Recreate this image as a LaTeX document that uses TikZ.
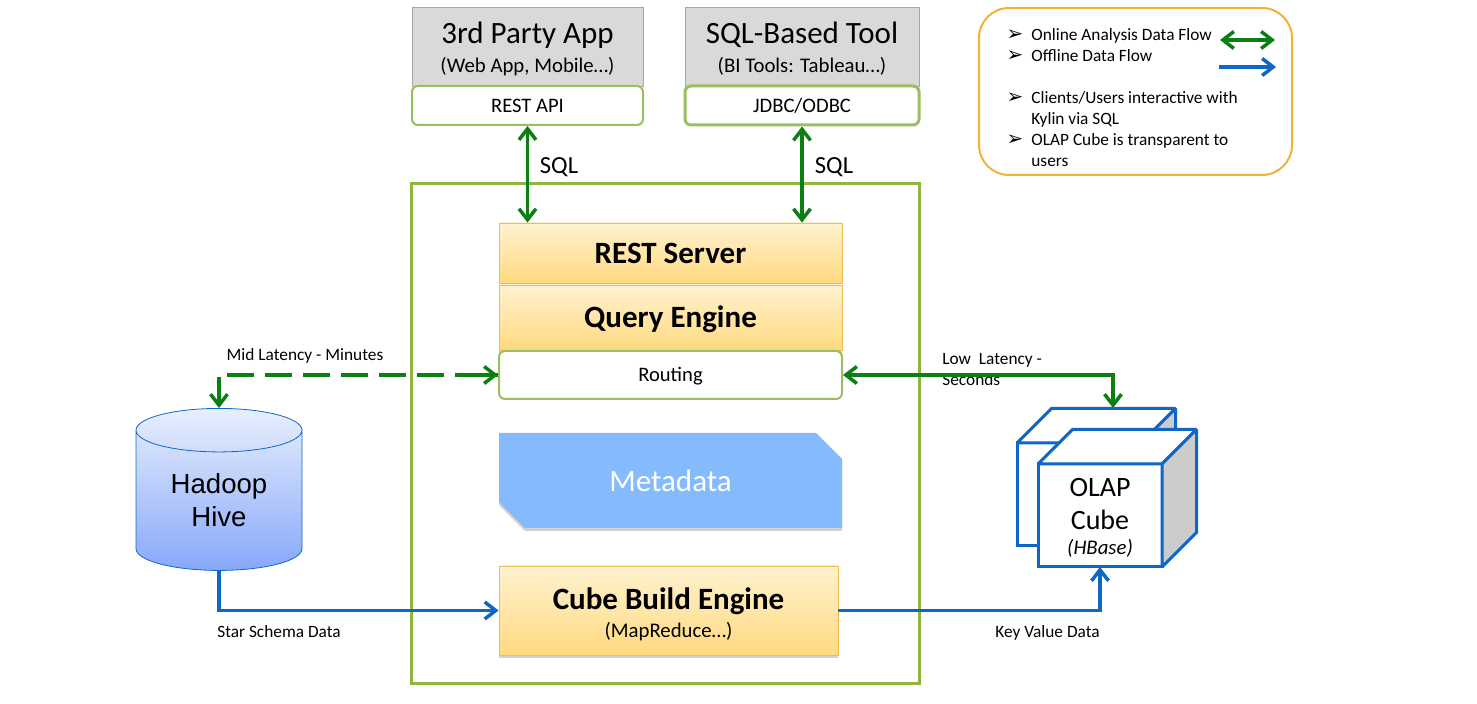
\documentclass[tikz,border=0pt]{standalone}
\usepackage{fontspec}
\setmainfont{Carlito}
\newfontfamily\hivefont{Liberation Sans}
\newfontfamily\bulletfont{DejaVu Sans}
\usepackage{tikz}
\usetikzlibrary{shapes.geometric, shapes.misc, arrows.meta, shadows, positioning}
\definecolor{onlineGreen}{HTML}{0B7F12}
\definecolor{offlineBlue}{HTML}{0F66C9}
\definecolor{frameGreen}{HTML}{8FB63E}
\definecolor{apiGreen}{HTML}{9DBD62}
\definecolor{legendOrange}{HTML}{F2B233}
\definecolor{engineEdge}{HTML}{F0BE50}
\definecolor{engineTop}{HTML}{FFF2D0}
\definecolor{engineBottom}{HTML}{FFD97F}
\definecolor{hiveTop}{HTML}{E8EFFD}
\definecolor{hiveBottom}{HTML}{87A8FA}
\definecolor{metaBlue}{HTML}{85BBFD}
\newcommand{\sizeBig}{\fontsize{15.5}{18}\selectfont}
\newcommand{\sizeSub}{\fontsize{10.4}{12}\selectfont}
\newcommand{\sizeSmall}{\fontsize{8.65}{10.5}\selectfont}
\newcommand{\legendItem}{\llap{\bulletfont\fontsize{10}{10.5}\selectfont ➢\hspace{4pt}}}
\begin{document}
\begin{tikzpicture}[x=0.5pt, y=-0.5pt, node distance=30pt]
	\tikzstyle{client} = [rectangle, minimum width=115.5pt, minimum height=39.5pt, inner sep=0pt, align=center, draw=black!35, fill=black!15]
	\tikzstyle{api} = [rectangle, rounded corners=3pt, minimum width=115.5pt, minimum height=19.5pt, inner sep=0pt, text height=7pt, text depth=0pt, draw=apiGreen, fill=white, line width=1pt, font=\fontsize{10.3}{11}\selectfont]
	\tikzstyle{engine} = [rectangle, minimum width=171.5pt, minimum height=30pt, inner sep=0pt, align=center, draw=engineEdge, top color=engineTop, bottom color=engineBottom, drop shadow={shadow xshift=0pt, shadow yshift=-1.5pt, opacity=0.35}, font=\sizeBig\bfseries]
	\tikzstyle{cubeface} = [draw=offlineBlue, line width=1.5pt, line join=miter, miter limit=2, outer sep=0pt]
	\tikzstyle{lbl} = [inner sep=0pt, font=\sizeSmall]
	\tikzstyle{online} = [line width=1.75pt, draw=onlineGreen, {Straight Barb[length=5.5pt, width=8.5pt]}-{Straight Barb[length=5.5pt, width=8.5pt]}]
	\tikzstyle{onlineTip} = [line width=1.75pt, draw=onlineGreen, -{Straight Barb[length=5.5pt, width=8.5pt]}]
	\tikzstyle{offline} = [line width=1.75pt, draw=offlineBlue, -{Straight Barb[length=5.5pt, width=8.5pt]}]
	\useasboundingbox (0,0) rectangle (1477,704);
	% server frame
	\node (kylinFrame) [rectangle, minimum width=254pt, minimum height=250pt, draw=frameGreen, line width=1.5pt, fill=white] at (665,434) {};
	% clients
	\node (thirdParty) [client] at (527.5,46.5) {\sizeBig\rule{0pt}{13pt}3rd Party App\\[2.5pt]\sizeSub (Web App, Mobile…)};
	\node (sqlTool) [client, minimum width=117pt] at (802,46.5) {\sizeBig\rule{0pt}{13pt}SQL-Based Tool\\[2.5pt]\sizeSub (BI Tools: Tableau…)};
	\node (restApi) [api, below of=thirdParty, yshift=0.5pt] {REST API};
	\node (jdbc) [api, minimum width=117pt, line width=1.5pt, below of=sqlTool, yshift=0.5pt] {JDBC/ODBC};
	% engines
	\node (restServer) [engine] at (670.5,253) {REST Server};
	\node (queryEngine) [engine, minimum height=32.5pt, below of=restServer, yshift=-2.25pt] {\rule{0pt}{12.5pt}Query Engine};
	\node (routing) [api, minimum width=171.5pt, minimum height=24pt, text height=6.5pt, below of=queryEngine, yshift=1.25pt] {Routing};
	\node (metadata) [chamfered rectangle, chamfered rectangle corners={north east, south west}, chamfered rectangle sep=7.5pt, minimum width=171.5pt, minimum height=47.5pt, inner sep=0pt, fill=metaBlue, text=white, drop shadow={shadow xshift=0pt, shadow yshift=-1.5pt, opacity=0.35}, font=\sizeBig] at (670.5,480.5) {Metadata};
	\node (cubeEngine) [engine, minimum width=169.5pt, minimum height=44.5pt] at (668.5,610.5) {\rule{0pt}{15pt}Cube Build Engine\\[-4pt]{\sizeSub\mdseries (MapReduce…)}};
	% hive
	\node (hive) [cylinder, shape border rotate=90, aspect=0.45, minimum width=83pt, minimum height=81pt, inner sep=0pt, draw=offlineBlue, top color=hiveTop, bottom color=hiveBottom, align=center, font=\hivefont\fontsize{13.8}{16.5}\selectfont] at (219,500.5) {Hadoop\\Hive};
	% cubes
	\foreach \cubeName/\cubeX/\cubeY/\cubeText in {cubeBack/1079/494.5/{}, cubeFront/1100/515.5/{\fontsize{14}{16}\selectfont\rule{0pt}{11pt}OLAP\\[4.5pt]\fontsize{14}{16}\selectfont Cube\\[0.5pt]\sizeSub\itshape (HBase)}} {
		\node (\cubeName) [cubeface, rectangle, minimum width=62pt, minimum height=51.5pt, inner sep=0pt, align=center, fill=white] at (\cubeX,\cubeY) {\cubeText};
		\draw [cubeface, fill=white] (\cubeName.north west) -- ++(34.5,-34.5) -- ++(124,0) -- (\cubeName.north east) -- cycle;
		\draw [cubeface, fill=black!20] (\cubeName.north east) -- ++(34.5,-34.5) -- ++(0,103) -- (\cubeName.south east) -- cycle;
	}
	\coordinate (cubeBackTop) at (1113,408);
	% labels
	\node (sql1) [lbl, font=\fontsize{12.3}{14}\selectfont] at (559,167) {SQL};
	\node (sql2) [lbl, font=\fontsize{12.3}{14}\selectfont] at (834,167) {SQL};
	\node (midLabel) [lbl] at (305,356) {Mid Latency - Minutes};
	\node (lowLabel) [lbl, align=left, anchor=north west] at (942,353) {Low\ \ Latency -\\Seconds};
	\node (starLabel) [lbl] at (279,632) {Star Schema Data};
	\node (keyLabel) [lbl] at (1047.5,633) {Key Value Data};
	% legend
	\node (legendBox) [rectangle, rounded corners=15pt, minimum width=156.5pt, minimum height=83.5pt, draw=legendOrange, line width=1pt] at (1135.5,91.5) {};
	\node (legendText) [lbl, align=left, anchor=north west] at (1031,28.5) {\legendItem Online Analysis Data Flow\\\legendItem Offline Data Flow\\[10.5pt]\legendItem Clients/Users interactive with\\Kylin via SQL\\\legendItem OLAP Cube is transparent to\\users};
	\coordinate (onlineStart) at (1220,40);
	\coordinate (onlineEnd) at (1275,40);
	\coordinate (offlineStart) at (1219,67);
	\coordinate (offlineEnd) at (1276,67);
	% connectors
	\draw [online] (restApi.south) -- (restApi.south |- restServer.north);
	\draw [online] (jdbc.south) -- (jdbc.south |- restServer.north);
	\draw [line width=1.75pt, draw=onlineGreen, dash pattern=on 13.5pt off 5.5pt, dash phase=11pt] (routing.west) -| (hive.north);
	\draw [onlineTip] ([xshift=-21.5pt]routing.west) -- (routing.west);
	\draw [onlineTip] ([yshift=15.5pt]hive.north) -- (hive.north);
	\draw [online] (routing.east) -| (cubeBackTop);
	\draw [offline] (hive.south) |- (cubeEngine.west);
	\draw [offline] (cubeEngine.east) -| (cubeFront.south);
	\draw [online] (onlineStart) -- (onlineEnd);
	\draw [offline] (offlineStart) -- (offlineEnd);
\end{tikzpicture}
\end{document}
